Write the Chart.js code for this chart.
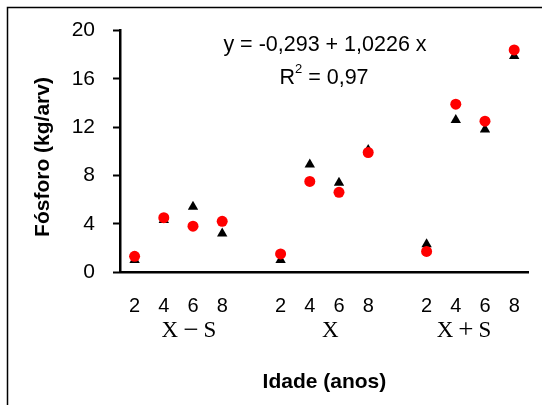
<!DOCTYPE html>
<html>
<head>
<meta charset="utf-8">
<script src="https://cdn.jsdelivr.net/npm/chart.js@4/dist/chart.umd.min.js"></script>
<style>
  body { margin: 0; background: #fff; }
  #wrap { width: 542px; height: 405px; }
</style>
</head>
<body>
<div id="wrap"><canvas id="fosforo" width="542" height="405"></canvas></div>
<script>
/* =========================
   DATA
========================= */

const ages = ["2", "4", "6", "8"];
const groups = ["X \u2212 S", "X", "X + S"];
// where each group caption sits, in category units along the x axis
const groupCenters = [1.86, 6.7, 11.28];

// red circles and black triangles, 4 ages per group
const observado = [1.3, 4.5, 3.8, 4.2, 1.5, 7.5, 6.6, 9.9, 1.7, 13.9, 12.5, 18.4];
const estimado = [1.0, 4.3, 5.4, 3.2, 1.0, 8.9, 7.4, 10.1, 2.3, 12.6, 11.8, 17.9];

const yTicks = [0, 4, 8, 12, 16, 20];

const equation = "y = -0,293 + 1,0226 x";
const r2Value = "0,97";

// one empty slot between groups
function withGaps(values) {
  let out = [];
  groups.forEach((g, gi) => {
    ages.forEach((a, ai) => out.push(values[gi * ages.length + ai]));
    if (gi < groups.length - 1) out.push(null);
  });
  return out;
}

const labels = withGaps(groups.flatMap(() => ages)).map(v => v === null ? "" : v);

/* =========================
   TEXT + FRAME
========================= */

const SANS = "'Liberation Sans', Arial, sans-serif";
const SERIF = "'Liberation Serif', 'Times New Roman', serif";

// caption like "X − S": letters in serif, operators set larger, small gaps
function drawCaption(ctx, text, cx, cy) {
  const parts = text.split(" ");
  const gap = 5;
  const fontFor = p => (p === "\u2212" || p === "+") ? "27px " + SERIF : "23px " + SERIF;
  const widths = parts.map(p => { ctx.font = fontFor(p); return ctx.measureText(p).width; });
  const total = widths.reduce((a, b) => a + b, 0) + gap * (parts.length - 1);
  let x = cx - total / 2;
  ctx.textAlign = "left";
  parts.forEach((p, i) => {
    ctx.font = fontFor(p);
    ctx.fillText(p, x, cy);
    x += widths[i] + gap;
  });
}

const annotations = {
  id: "annotations",
  beforeDraw(chart) {
    const { ctx } = chart;
    ctx.save();
    ctx.strokeStyle = "#000";
    ctx.lineWidth = 1.5;
    ctx.strokeRect(7.5, 7.5, 560, 420);
    ctx.restore();
  },
  afterDraw(chart) {
    const { ctx, chartArea, scales } = chart;
    const midX = (chartArea.left + chartArea.right) / 2;
    ctx.save();
    ctx.fillStyle = "#000";
    ctx.textBaseline = "middle";

    // regression text
    ctx.textAlign = "center";
    ctx.font = "21.5px " + SANS;
    ctx.fillText(equation, 325, 45);

    const rest = " = " + r2Value;
    const wR = ctx.measureText("R").width;
    const wRest = ctx.measureText(rest).width;
    ctx.font = "13px " + SANS;
    const wSup = ctx.measureText("2").width;
    let x = 324 - (wR + wSup + wRest) / 2;
    ctx.textAlign = "left";
    ctx.font = "21.5px " + SANS;
    ctx.fillText("R", x, 78);
    ctx.font = "13px " + SANS;
    ctx.fillText("2", x + wR, 69);
    ctx.font = "21.5px " + SANS;
    ctx.fillText(rest, x + wR + wSup, 78);

    // group captions under the age ticks
    groups.forEach((g, i) => {
      drawCaption(ctx, g, scales.x.getPixelForValue(groupCenters[i]), 331);
    });

    // axis titles
    ctx.textAlign = "center";
    ctx.font = "bold 21px " + SANS;
    ctx.fillText("Idade (anos)", midX, 382);

    ctx.translate(43, 157);
    ctx.rotate(-Math.PI / 2);
    ctx.fillText("F\u00f3sforo (kg/arv)", 0, 0);
    ctx.restore();
  }
};

/* =========================
   CHART
========================= */

const chart = new Chart(document.getElementById("fosforo"), {
  type: "line",
  data: {
    labels: labels,
    datasets: [
      {
        label: "observado",
        data: withGaps(observado),
        showLine: false,
        pointStyle: "circle",
        pointRadius: 5.5,
        pointBackgroundColor: "#ff0000",
        pointBorderWidth: 0,
        order: 0
      },
      {
        label: "estimado",
        data: withGaps(estimado),
        showLine: false,
        pointStyle: "triangle",
        pointRadius: 6,
        pointBackgroundColor: "#000",
        pointBorderWidth: 0,
        order: 1
      }
    ]
  },
  options: {
    responsive: false,
    animation: false,
    layout: { padding: { left: 0, right: 7, top: 27, bottom: 0 } },
    plugins: {
      legend: { display: false },
      tooltip: { enabled: false }
    },
    scales: {
      x: {
        type: "category",
        offset: true,
        grid: { drawOnChartArea: false, drawTicks: false },
        border: { display: true, color: "#000", width: 2.5 },
        ticks: {
          color: "#000",
          padding: 22,
          maxRotation: 0,
          autoSkip: false,
          font: { family: SANS, size: 20 }
        },
        afterFit(scale) { scale.height = 133; }
      },
      y: {
        min: 0,
        max: 20,
        grid: {
          drawOnChartArea: false,
          drawTicks: true,
          tickLength: 7,
          tickWidth: 2,
          tickColor: "#000"
        },
        border: { display: true, color: "#000", width: 2.5 },
        ticks: {
          stepSize: 2,
          color: "#000",
          padding: 18,
          font: { family: SANS, size: 21 },
          callback: v => yTicks.includes(v) ? v : ""
        },
        afterFit(scale) { scale.width = 120; }
      }
    }
  },
  plugins: [annotations]
});
</script>
</body>
</html>
